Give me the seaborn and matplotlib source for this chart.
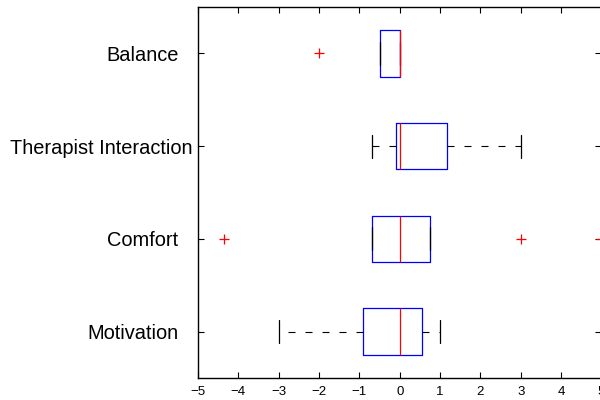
import matplotlib
matplotlib.use("Agg")
import matplotlib.pyplot as plt
import matplotlib.transforms as mtransforms
import numpy as np
import pandas as pd
import seaborn as sns

# Categories (top to bottom) and per-category observations
categories = ["Balance", "Therapist Interaction", "Comfort", "Motivation"]
balance = [-2.0, -0.5, 0.0, 0.0, 0.0]
therapist = [-0.68, -0.08, 0.0, 1.17, 3.0]
comfort = [-4.35, -0.68, -0.68, -0.68, 0.0, 0.74, 0.74, 3.0, 5.0]
motivation = [-3.0, -0.9, 0.0, 0.55, 1.0]
xticks = [-5, -4, -3, -2, -1, 0, 1, 2, 3, 4, 5]

series = [balance, therapist, comfort, motivation]
df = pd.DataFrame({
    "category": np.concatenate([[c] * len(v) for c, v in zip(categories, series)]),
    "value": np.concatenate(series),
})

sns.set_theme(style="white")
plt.rcParams["font.family"] = ["Liberation Sans", "DejaVu Sans"]

fig = plt.figure(figsize=(6, 4), dpi=100)
ax = fig.add_axes([198 / 600, 22 / 400, 403.4 / 600, 371 / 400])

sns.boxplot(
    data=df, x="value", y="category", order=categories, orient="h",
    fill=False, width=0.5, whis=1.5, color="blue", linewidth=0.9, ax=ax,
    boxprops=dict(color="blue"),
    medianprops=dict(color="red", linewidth=0.9),
    whiskerprops=dict(color="black", linestyle=(0, (6.3, 9)), linewidth=0.8),
    capprops=dict(color="black", linewidth=0.9),
    flierprops=dict(marker="+", markeredgecolor="red", markerfacecolor="red",
                    markersize=6.5, markeredgewidth=0.9),
)

ax.set_xlim(-5, 5)
ax.set_ylim(3.5, -0.5)
ax.set_xticks(xticks)
ax.set_xticklabels([f"\u2212{abs(t)}" if t < 0 else str(t) for t in xticks], fontsize=9.5)
ax.set_xlabel("")
ax.set_ylabel("")
ax.tick_params(axis="both", direction="in", length=4, width=0.8, color="black",
               top=True, right=True, bottom=True, left=True)
ax.tick_params(axis="x", pad=6)
ax.tick_params(axis="y", labelsize=14.4, pad=4)
for s in ax.spines.values():
    s.set_visible(True)
    s.set_color("black")
    s.set_linewidth(1.0)

# shift the shorter labels slightly left (as in the original)
for lab in ax.get_yticklabels():
    lab.set_color("black")
    if lab.get_text() != "Therapist Interaction":
        lab.set_transform(lab.get_transform() +
                          mtransforms.ScaledTranslation(-14 / 100, 0, fig.dpi_scale_trans))
for lab in ax.get_xticklabels():
    lab.set_color("black")

fig.savefig("out.png", dpi=100)
